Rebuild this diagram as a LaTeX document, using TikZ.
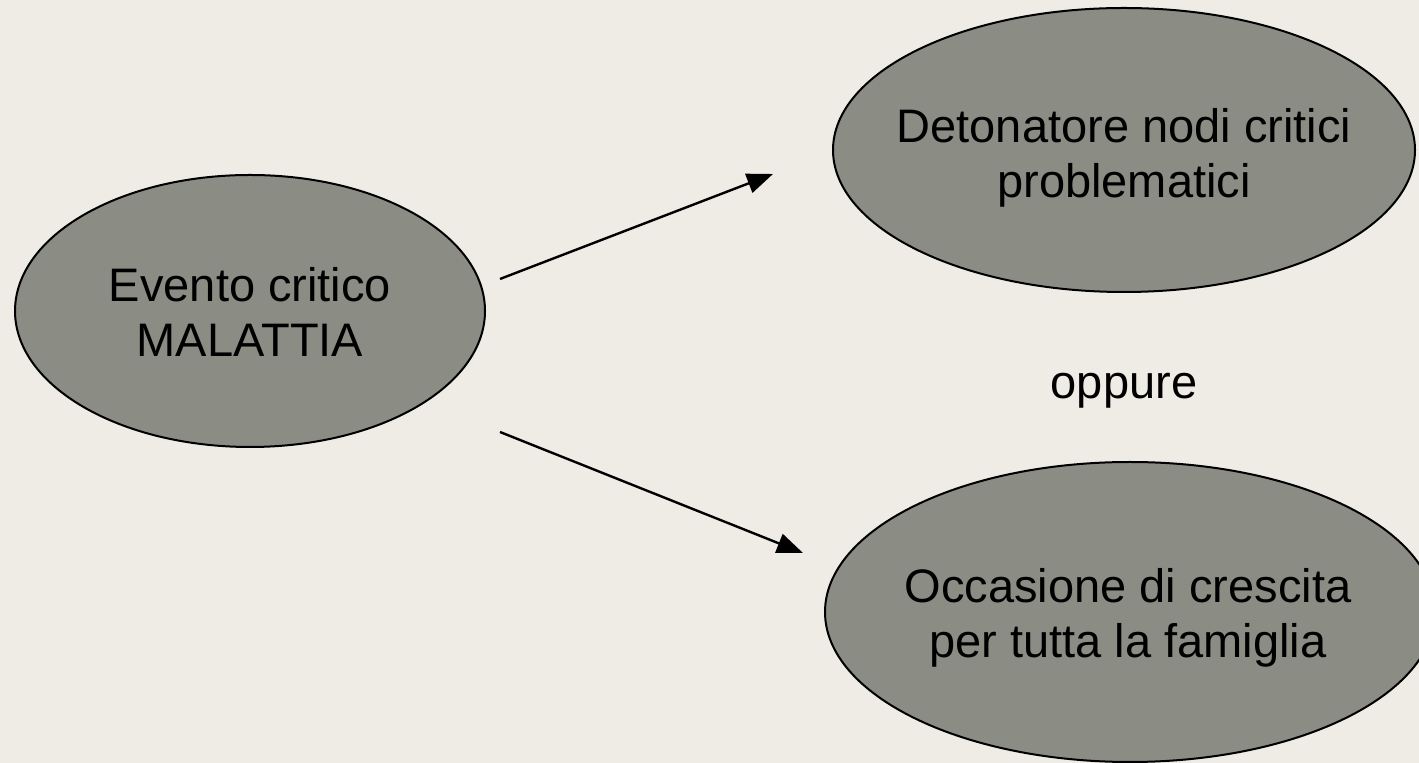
\documentclass[tikz,border=0pt]{standalone}
\usepackage{fontspec}
\setmainfont{Liberation Sans}
\usetikzlibrary{shapes.geometric}
\usetikzlibrary{arrows.meta}

\definecolor{sfondo}{HTML}{EEECE5}
\definecolor{grigio}{HTML}{8B8C84}

\begin{document}
\begin{tikzpicture}[x=0.5pt, y=-0.5pt,
	bolla/.style={ellipse, fill=grigio, draw=black, line width=1pt, inner sep=0pt},
	testo/.style={align=center, inner sep=0pt, font=\fontsize{23.5}{27.5}\selectfont},
	freccia/.style={-{Triangle[length=13pt, width=10pt]}, line width=1.2pt}]

	% slide background, fixes the page size
	\fill[sfondo] (0,0) rectangle (1419,763);
	\useasboundingbox (0,0) rectangle (1419,763);

	% the event and its two outcomes (ellipse first, text on top)
	\node[bolla, minimum width=235pt, minimum height=136pt] (evento) at (250,311) {};
	\node[testo] (eventotxt) at (250,312) {Evento critico\\MALATTIA};
	\node[bolla, minimum width=291pt, minimum height=142pt] (detonatore) at (1124,150) {};
	\node[testo] (detonatoretxt) at (1124,158) {Detonatore nodi critici\\problematici};
	\node[bolla, minimum width=305pt, minimum height=150pt] (occasione) at (1130,612) {};
	\node[testo] (occasionetxt) at (1128,618) {Occasione di crescita\\per tutta la famiglia};
	\node[testo] (oppure) at (1124,391) {oppure};

	% free ends of the arrows, they do not touch the ellipses
	\coordinate (su0) at (500,279); \coordinate (su1) at (773,174);
	\coordinate (giu0) at (500,432); \coordinate (giu1) at (803,553);
	\draw[freccia] (su0) -- (su1);
	\draw[freccia] (giu0) -- (giu1);

\end{tikzpicture}
\end{document}
